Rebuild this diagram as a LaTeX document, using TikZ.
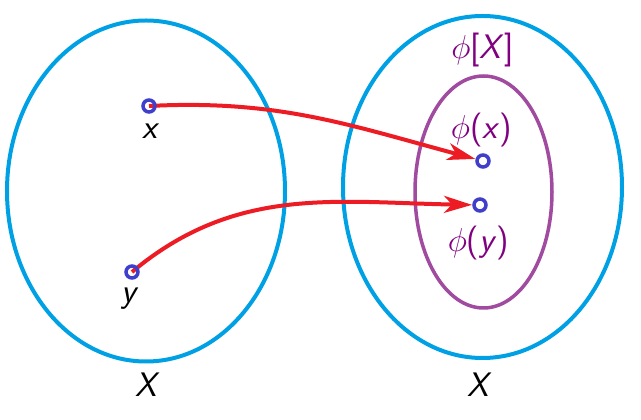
\documentclass[tikz,border=0pt]{standalone}
\usepackage{amsmath, amssymb}
\usepackage{tikz}
\usetikzlibrary{arrows.meta}

\definecolor{setblue}{RGB}{0,161,228}
\definecolor{imgpurple}{RGB}{160,74,160}
\definecolor{mapred}{RGB}{237,28,36}
\definecolor{ptblue}{RGB}{63,63,204}
\definecolor{lblpurple}{RGB}{128,0,128}

% phi at label size (math fonts stop at 24.88pt)
\newcommand{\bigphi}{\scalebox{1.33}{$\phi$}}

\tikzset{
  setline/.style={line width=4pt, setblue},
  imgline/.style={line width=3.5pt, imgpurple},
  pt/.style={circle, minimum size=12pt, inner sep=0pt, outer sep=2pt},
  ring/.style={ptblue, line width=3.5pt},
  maparrow/.style={line width=4pt, mapred, -{Stealth[length=28pt, width=17pt, inset=8pt]}},
  lbl/.style={font=\fontsize{34}{40}\sffamily\itshape\selectfont},
  imglbl/.style={lbl, lblpurple}
}

\begin{document}
\begin{tikzpicture}[x=1pt, y=1pt]

\useasboundingbox (0,0) rectangle (641,420);

% =========================
% LEFT: domain X
% =========================
\begin{scope}[shift={(146,229)}]

    % Set
    \draw[setline] (0,0) ellipse (139 and 170.5);

    % Points
    \node[pt] (dx) at (3,85) {};
    \node[pt] (dy) at (-14,-81) {};

    % Labels
    \node[lbl] (lx) at (4,60) {x};
    \node[lbl] (ly) at (-17,-108) {y};
    \node[lbl] (lX) at (0,-194) {X};
\end{scope}

% =========================
% RIGHT: codomain X
% =========================
\begin{scope}[shift={(482.5,233)}]

    % Set and image
    \draw[setline] (0,0) ellipse (139.5 and 171);
    \draw[imgline] (1,-5) ellipse (68.5 and 116);

    % Points
    \node[pt] (dfx) at (0.5,26) {};
    \node[pt] (dfy) at (-2.5,-18) {};

    % Labels
    \node[imglbl] (limg) at (0,137) {\bigphi\textup{[}X\textup{]}};
    \node[imglbl] (lfx) at (-1,57) {\bigphi\textup{(}x\textup{)}};
    \node[imglbl] (lfy) at (-4,-56) {\bigphi\textup{(}y\textup{)}};
    \node[lbl] (lX2) at (-4,-198) {X};
\end{scope}

% Map arrows
\draw[maparrow] (dx.center) to[out=3, in=165] (dfx);
\draw[maparrow] (dy.center) to[out=40, in=179] (dfy);

% Rings on top
\foreach \p in {dx, dy, dfx, dfy}
    \draw[ring] (\p) circle (6pt);

\end{tikzpicture}
\end{document}
